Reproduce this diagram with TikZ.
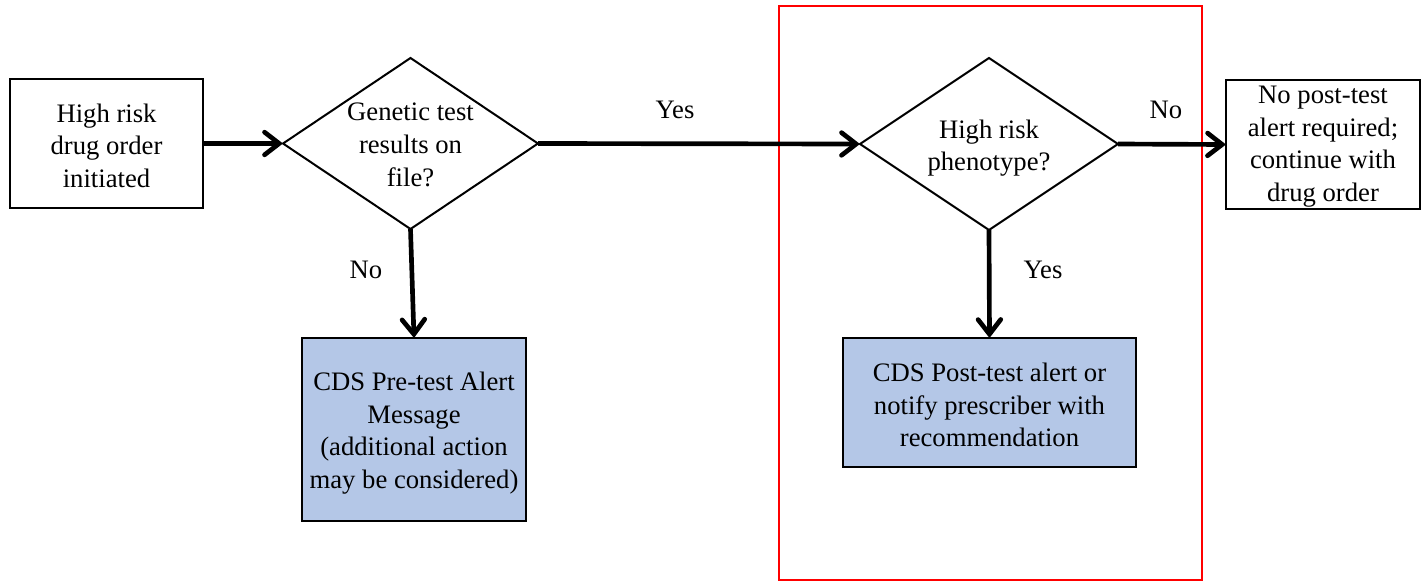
\documentclass[tikz,border=0pt]{standalone}
\usepackage{fontspec}
\setmainfont{Liberation Serif}
\usetikzlibrary{shapes.geometric,arrows.meta}
\definecolor{boxblue}{RGB}{180,199,231}
\begin{document}
\begin{tikzpicture}[x=0.75pt,y=-0.75pt,
  every node/.style={font=\fontsize{20}{24.4}\selectfont, align=center, outer sep=0pt},
  every label/.style={align=center, inner sep=0pt},
  plainbox/.style={draw, line width=1.5pt, inner sep=0pt},
  bluebox/.style={plainbox, fill=boxblue},
  decision/.style={draw, diamond, line width=1.5pt, inner sep=0pt},
  flow/.style={line width=3.5pt, -{Straight Barb[length=11pt,width=17pt,line cap=round]}},
  lbl/.style={inner sep=0pt}
]
\useasboundingbox (0,0) rectangle (1421,583);
\node[plainbox, minimum width=144.75pt, minimum height=96.75pt,
  label={[yshift=-1.5pt]center:High risk\\drug order\\initiated}] (start) at (106.5,143.5) {};
\node[decision, minimum width=191.25pt, minimum height=128.25pt,
  label={[yshift=-1pt]center:Genetic test\\results on\\file?}] (d1) at (410.5,143.5) {};
\node[decision, minimum width=193.5pt, minimum height=129pt,
  label={[yshift=-3pt]center:High risk\\phenotype?}] (d2) at (989,144) {};
\node[plainbox, minimum width=145.5pt, minimum height=96.75pt,
  label={[yshift=-1.5pt]center:No post-test\\alert required;\\continue with\\drug order}] (cont) at (1323,144.5) {};
\node[bluebox, minimum width=168pt, minimum height=137.25pt,
  label={[yshift=-2.6pt]center:CDS Pre-test Alert\\Message\\(additional action\\may be considered)}] (pre) at (414,429.5) {};
\node[bluebox, minimum width=219.75pt, minimum height=96.75pt,
  label={[yshift=-2pt]center:CDS Post-test alert or\\notify prescriber with\\recommendation}] (post) at (989.5,402.5) {};
\node[draw=red, line width=1.5pt, minimum width=317.25pt, minimum height=430.5pt, inner sep=0pt] (frame) at (990.5,293) {};
\draw[flow] (start.east) -- (d1.west);
\draw[flow] (d1.east) -- (d2.west);
\draw[flow] (d2.east) -- (cont.west);
\draw[flow] (d1.south) -- (pre.north);
\draw[flow] (d2.south) -- (post.north);
\node[lbl] (yes1) at (675,110) {Yes};
\node[lbl] (no1) at (1166,110) {No};
\node[lbl] (no2) at (366,270) {No};
\node[lbl] (yes2) at (1043,270) {Yes};
\end{tikzpicture}
\end{document}
